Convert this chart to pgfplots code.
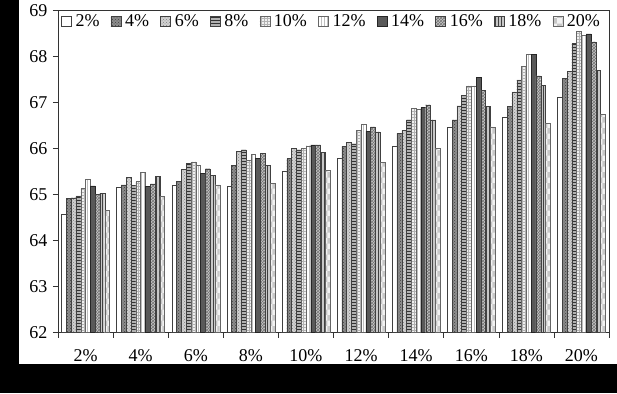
\documentclass[border=0pt]{standalone}
\usepackage{fontspec}
\setmainfont{Liberation Serif}
\usepackage{pgfplots}
\pgfplotsset{compat=1.18}
\usepackage{pgfplotstable}
\usetikzlibrary{patterns}

\pgfplotstableread{
x a b c d e f g h i j
0 64.58 64.91 64.93 64.97 65.14 65.33 65.19 65.00 65.03 64.65
1 65.15 65.21 65.38 65.20 65.28 65.48 65.17 65.23 65.39 64.96
2 65.21 65.28 65.54 65.67 65.71 65.64 65.46 65.56 65.41 65.21
3 65.19 65.64 65.94 65.97 65.74 65.87 65.78 65.89 65.64 65.25
4 65.50 65.78 66.00 65.97 66.00 66.06 66.08 66.08 65.92 65.52
5 65.80 66.04 66.13 66.10 66.39 66.53 66.37 66.47 66.36 65.70
6 66.04 66.33 66.40 66.62 66.87 66.85 66.89 66.95 66.62 66.01
7 66.47 66.62 66.93 67.16 67.36 67.36 67.54 67.27 66.91 66.47
8 66.68 66.91 67.23 67.49 67.78 68.04 68.04 67.58 67.37 66.55
9 67.11 67.53 67.67 68.28 68.54 68.46 68.49 68.32 67.70 66.74
}\data

\tikzset{
 s2/.style={draw=black!75, fill=white},
 s4/.style={draw=black!75, fill=black!45, postaction={pattern=crosshatch dots, pattern color=black!75}},
 s6/.style={draw=black!75, fill=black!18, postaction={pattern=crosshatch dots, pattern color=black!50}},
 s8/.style={draw=black!75, fill=black!30, postaction={pattern=horizontal lines, pattern color=black!80}},
 s10/.style={draw=black!60, fill=black!6, postaction={pattern=grid, pattern color=black!30}},
 s12/.style={draw=black!60, fill=white, postaction={pattern=vertical lines, pattern color=black!25}},
 s14/.style={draw=black!85, fill=black!65},
 s16/.style={draw=black!75, fill=black!22, postaction={pattern=crosshatch, pattern color=black!55}},
 s18/.style={draw=black!75, fill=black!22, postaction={pattern=vertical lines, pattern color=black!75}},
 s20/.style={draw=black!60, fill=black!5, postaction={pattern=checkerboard, pattern color=black!22}},
}

\begin{document}
\begin{tikzpicture}
\fill[black] (-58pt,-60.5pt) rectangle (559pt,332.5pt);
\fill[white] (-39pt,-31.5pt) rectangle (559pt,332.5pt);
\begin{axis}[
 at={(0pt,0pt)}, anchor=south west,
 scale only axis, width=551pt, height=322pt,
 font=\fontsize{18}{21}\selectfont,
 /pgf/number format/assume math mode=true,
 ybar=0pt, bar width=0.087,
 xmin=-0.5, xmax=9.5, ymin=62, ymax=69,
 ytick={62,63,...,69},
 xtick={0,...,9},
 xticklabels={2\%,4\%,6\%,8\%,10\%,12\%,14\%,16\%,18\%,20\%},
 minor xtick={-0.5,0.5,...,9.5},
 xtick pos=lower, ytick pos=left,
 tick align=outside,
 major tick length=5pt, minor tick length=5pt,
 major x tick style={draw=none},
 tick style={black!80, line width=0.6pt},
 axis line style={black!80, line width=0.6pt},
 xticklabel style={yshift=-8pt},
 yticklabel style={xshift=-2pt},
 legend columns=10,
 legend style={at={(rel axis cs:0,1)}, anchor=north west, xshift=3pt, yshift=-4pt,
   draw=none, fill=none, inner sep=0pt,
   font=\fontsize{18}{21}\selectfont,
   nodes={inner sep=0pt},
   /tikz/every odd column/.append style={column sep=4pt},
   /tikz/every even column/.append style={column sep=11.2pt}},
 legend image code/.code={\draw[#1] (0pt,-5pt) rectangle (10pt,5pt);},
]
\addplot[s2] table[x=x,y=a]{\data};
\addplot[s4] table[x=x,y=b]{\data};
\addplot[s6] table[x=x,y=c]{\data};
\addplot[s8] table[x=x,y=d]{\data};
\addplot[s10] table[x=x,y=e]{\data};
\addplot[s12] table[x=x,y=f]{\data};
\addplot[s14] table[x=x,y=g]{\data};
\addplot[s16] table[x=x,y=h]{\data};
\addplot[s18] table[x=x,y=i]{\data};
\addplot[s20] table[x=x,y=j]{\data};
\legend{2\%,4\%,6\%,8\%,10\%,12\%,14\%,16\%,18\%,20\%}
\end{axis}
\end{tikzpicture}
\end{document}
